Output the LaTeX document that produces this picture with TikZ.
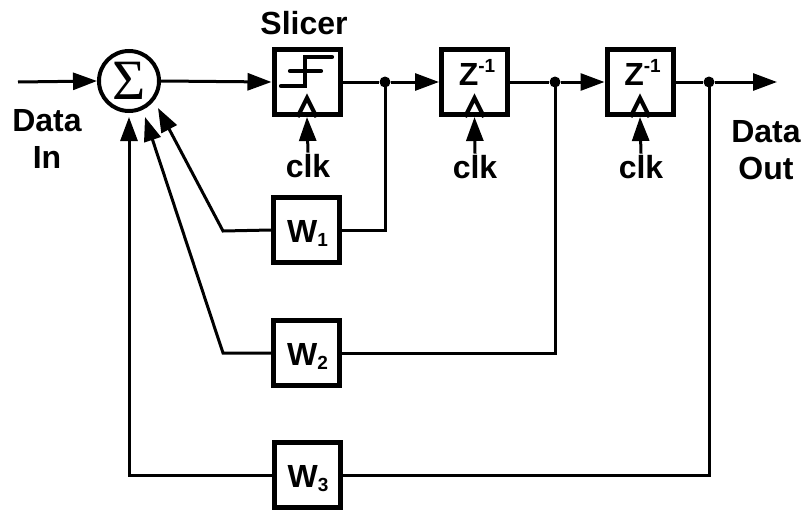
\documentclass[tikz,border=0pt]{standalone}
\usepackage{fontspec}
\setmainfont{Liberation Sans}
\newfontfamily\serifgreek{Liberation Serif}
\usetikzlibrary{arrows.meta,calc}
\newcommand{\sbs}[1]{\raisebox{-4pt}{\fontsize{19}{19}\selectfont #1}}
\newcommand{\sps}[1]{\raisebox{13pt}{\fontsize{19}{19}\selectfont #1}}
\begin{document}
\begin{tikzpicture}[x=1pt,y=-1pt,
  blk/.style={draw,line width=5pt,minimum width=66pt,minimum height=65pt,inner sep=0pt},
  wire/.style={line width=3pt},
  arr/.style={wire,-{Triangle[length=24pt,width=17pt]}},
  sym/.style={line width=4.2pt,line cap=round,line join=miter},
  lbl/.style={font=\bfseries\fontsize{32}{37}\selectfont,inner sep=0pt},
  jdot/.style={circle,fill,inner sep=0pt,minimum size=11pt},
  ]
\useasboundingbox (0,0) rectangle (805,511);

% summer
\node[circle,draw,line width=4pt,minimum size=60pt,inner sep=0pt] (sum) at (129,81)
  {\serifgreek\fontsize{57}{57}\selectfont Σ};

% blocks
\node[blk] (sl) at (307,82) {};
\node[blk] (z1) at (474.5,82) {};
\node[blk] (z2) at (640,82) {};
\node[blk] (w1) at (306.5,230) {};
\node[blk] (w2) at (306.5,353) {};
\node[blk] (w3) at (307,475) {};

% block texts
\node[lbl,anchor=base] (z1t) at (477,85) {Z\sps{-1}};
\node[lbl,anchor=base] (z2t) at (642.5,85) {Z\sps{-1}};
\node[lbl,anchor=base] (w1t) at (307.5,242) {W\sbs{1}};
\node[lbl,anchor=base] (w2t) at (307.5,365) {W\sbs{2}};
\node[lbl,anchor=base] (w3t) at (308,487) {W\sbs{3}};

% slicer symbol
\draw[sym] ($(sl)+(-26,4)$) -- ++(24,0) -- ++(0,-29) -- ++(27,0);
\draw[sym] ($(sl)+(-17,-11)$) -- ++(31,0);

% clock chevrons
\foreach \b in {sl,z1,z2}{
  \draw[sym,line cap=butt] ($(\b.south)+(-9.5,0)$) -- ($(\b.south)+(0,-19)$) -- ($(\b.south)+(9.5,0)$);
}

% labels
\node[lbl,anchor=base] (slt) at (304,35) {Slicer};
\node[lbl,align=center,anchor=base] (din) at (47,168) {Data\\In};
\node[lbl,align=center,anchor=base] (dout) at (766,179) {Data\\Out};
\node[lbl,anchor=base] (k1) at (308,177) {clk};
\node[lbl,anchor=base] (k2) at (475,178) {clk};
\node[lbl,anchor=base] (k3) at (641,178) {clk};

% clock arrows
\draw[arr] (k1.north) ++(0,-1) -- (sl.south);
\draw[arr] (k2.north) ++(0,-1) -- (z1.south);
\draw[arr] (k3.north) ++(0,-1) -- (z2.south);

% junctions and ends
\node[jdot] (j1) at (385,82) {};
\node[jdot] (j2) at (555,82) {};
\node[jdot] (j3) at (709,82) {};
\coordinate (in) at (18,82);
\coordinate (out) at (777,82);

% forward path
\draw[arr] (in) -- (sum.west);
\draw[arr] (sum.east) -- (sl.west);
\draw[wire] (sl.east) -- (j1);
\draw[arr] (j1) -- (z1.west);
\draw[wire] (z1.east) -- (j2);
\draw[arr] (j2) -- (z2.west);
\draw[wire] (z2.east) -- (j3);
\draw[arr] (j3) -- (out);

% taps
\draw[wire] (j1.center) |- (w1.east);
\draw[wire] (j2.center) |- (w2.east);
\draw[wire] (j3.center) |- (w3.east);

% feedback
\coordinate (c1) at (223,231);
\coordinate (c2) at (223,353);
\coordinate (t1) at (158,108);
\coordinate (t2) at (145,117);
\coordinate (t3) at (129,117);
\draw[arr,line join=miter] (w1.west) -- (c1) -- (t1);
\draw[arr,line join=miter] (w2.west) -- (c2) -- (t2);
\draw[arr,line join=miter] (w3.west) -| (t3);
\end{tikzpicture}
\end{document}
